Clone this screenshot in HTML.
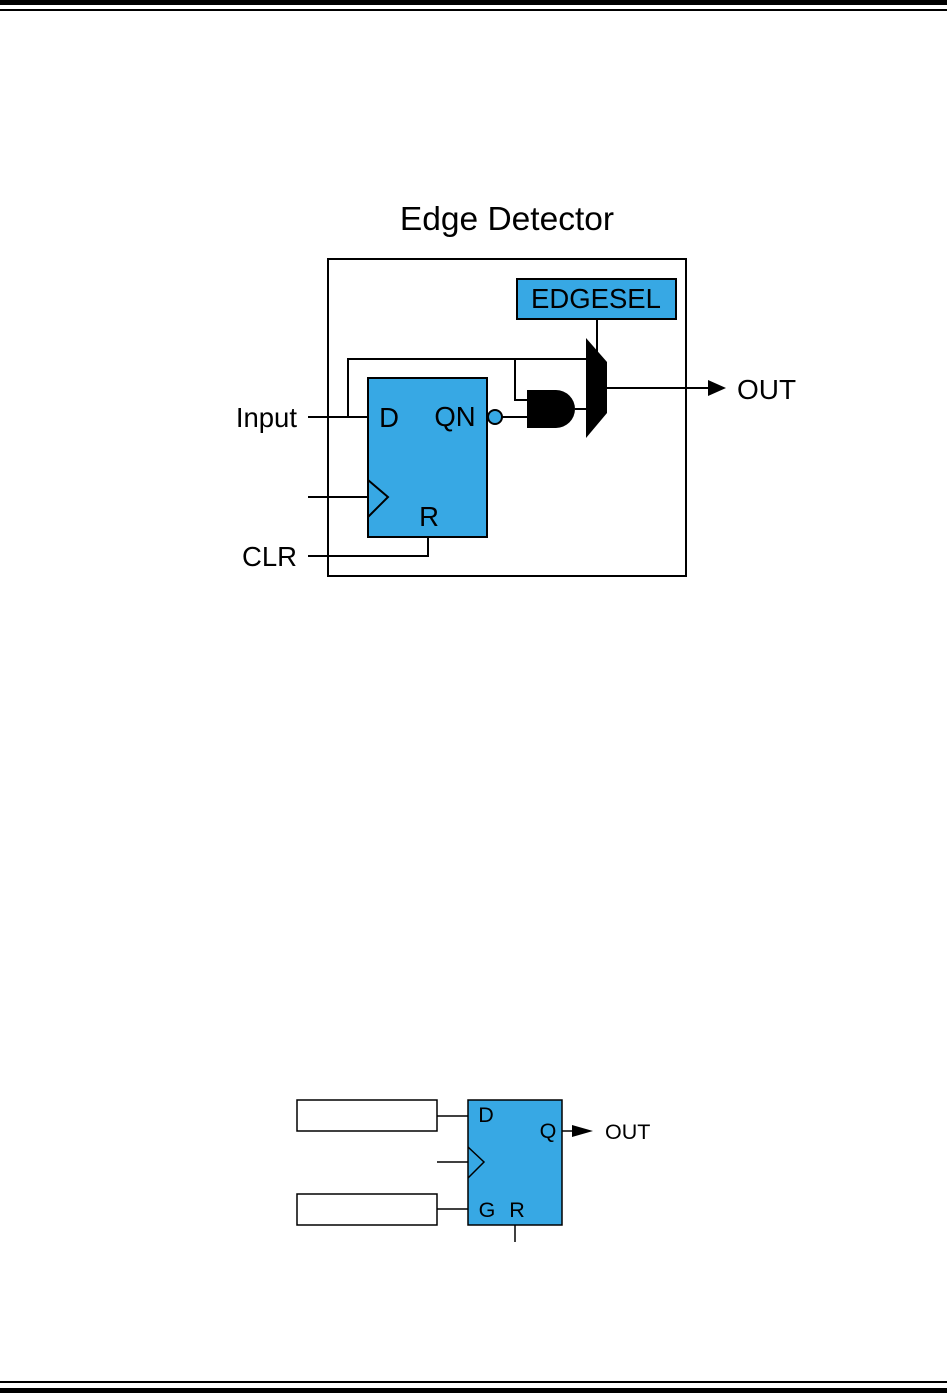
<!DOCTYPE html>
<html><head><style>body{margin:0;background:#fff}svg{display:block}</style></head><body>
<svg width="947" height="1393" viewBox="0 0 947 1393" font-family="Liberation Sans, Arial, sans-serif">
<rect x="0" y="0" width="947" height="5" fill="#000"/>
<rect x="0" y="9" width="947" height="2" fill="#000"/>
<rect x="0" y="1381" width="947" height="2" fill="#000"/>
<rect x="0" y="1388" width="947" height="5" fill="#000"/>
<text x="507" y="230" font-size="33.5" text-anchor="middle">Edge Detector</text>
<g stroke="#000" stroke-width="2" fill="none">
<rect x="328" y="259" width="358" height="317"/>
<polyline points="308,417 368,417"/>
<polyline points="348,417 348,359 586,359"/>
<polyline points="515,359 515,400 527,400"/>
<polyline points="308,497 368,497"/>
<polyline points="308,556 428,556 428,537"/>
<polyline points="597,319 597,352"/>
<polyline points="501,417 527,417"/>
<polyline points="575,409 586,409"/>
<polyline points="607,388 712,388"/>
</g>
<rect x="517" y="279" width="159" height="40" fill="#37a8e4" stroke="#000" stroke-width="2"/>
<text x="596" y="308" font-size="27.5" text-anchor="middle">EDGESEL</text>
<rect x="368" y="378" width="119" height="159" fill="#37a8e4" stroke="#000" stroke-width="2"/>
<polyline points="368,480 388,497 368,517" fill="none" stroke="#000" stroke-width="2"/>
<text x="389" y="427" font-size="27.5" text-anchor="middle">D</text>
<text x="455" y="426" font-size="27.5" text-anchor="middle">QN</text>
<text x="429" y="526" font-size="27.5" text-anchor="middle">R</text>
<circle cx="495" cy="417" r="7" fill="#37a8e4" stroke="#000" stroke-width="2"/>
<path d="M527,390 L556,390 A19,19 0 0 1 556,428 L527,428 Z" fill="#000"/>
<polygon points="586,338 607,362 607,413 586,438" fill="#000"/>
<polygon points="708,380 726,388 708,396" fill="#000"/>
<text x="737" y="399" font-size="28">OUT</text>
<text x="297" y="427" font-size="27.5" text-anchor="end">Input</text>
<text x="297" y="566" font-size="27.5" text-anchor="end">CLR</text>

<g stroke="#000" stroke-width="1.5" fill="none">
<rect x="297" y="1100" width="140" height="31"/>
<rect x="297" y="1194" width="140" height="31"/>
<line x1="437" y1="1116" x2="468" y2="1116"/>
<line x1="437" y1="1209" x2="468" y2="1209"/>
<line x1="437" y1="1162" x2="468" y2="1162"/>
<line x1="515" y1="1225" x2="515" y2="1242"/>
<line x1="562" y1="1131" x2="574" y2="1131"/>
</g>
<rect x="468" y="1100" width="94" height="125" fill="#37a8e4" stroke="#000" stroke-width="1.5"/>
<polyline points="468,1147 484,1162 468,1178" fill="none" stroke="#000" stroke-width="1.5"/>
<text x="486" y="1122" font-size="21.5" text-anchor="middle">D</text>
<text x="548" y="1138" font-size="21.5" text-anchor="middle">Q</text>
<text x="487" y="1217" font-size="21.5" text-anchor="middle">G</text>
<text x="517" y="1217" font-size="21.5" text-anchor="middle">R</text>
<polygon points="572,1125 593,1131 572,1137" fill="#000"/>
<text x="605" y="1139" font-size="21.5">OUT</text>
</svg>
</body></html>
